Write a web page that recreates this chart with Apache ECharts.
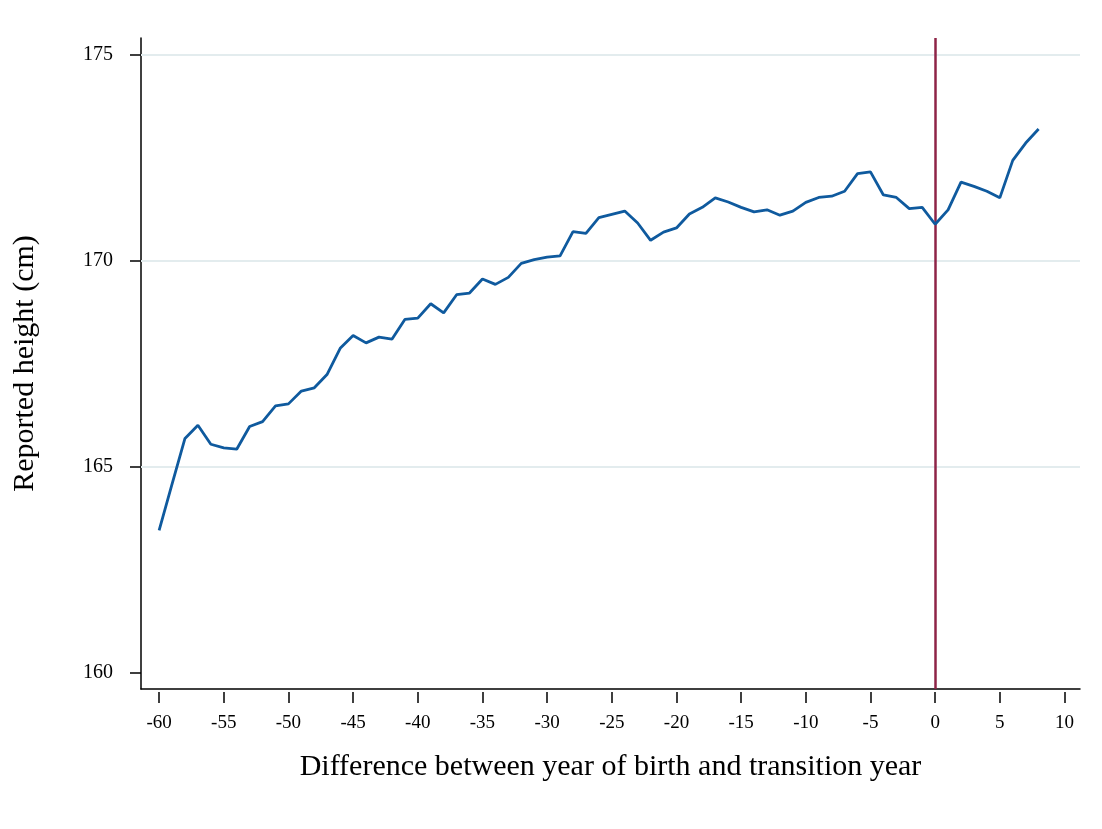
<!DOCTYPE html>
<html>
<head>
<meta charset="utf-8">
<script src="https://cdn.jsdelivr.net/npm/echarts@6/dist/echarts.min.js"></script>
<style>
html,body{margin:0;padding:0;background:#fff;}
#chart{width:1102px;height:829px;}
</style>
</head>
<body>
<div id="chart"></div>
<script>
// Difference between year of birth and transition year
const years = [-60,-59,-58,-57,-56,-55,-54,-53,-52,-51,-50,-49,-48,-47,-46,-45,-44,-43,-42,-41,-40,-39,-38,-37,-36,-35,-34,-33,-32,-31,-30,-29,-28,-27,-26,-25,-24,-23,-22,-21,-20,-19,-18,-17,-16,-15,-14,-13,-12,-11,-10,-9,-8,-7,-6,-5,-4,-3,-2,-1,0,1,2,3,4,5,6,7,8];
// Reported height (cm)
const heights = [163.45,164.57,165.68,166.0,165.54,165.45,165.42,165.97,166.09,166.47,166.52,166.83,166.91,167.24,167.87,168.18,168.0,168.14,168.09,168.57,168.6,168.95,168.73,169.17,169.21,169.55,169.42,169.59,169.93,170.02,170.08,170.11,170.7,170.66,171.04,171.12,171.2,170.91,170.49,170.69,170.79,171.13,171.29,171.52,171.42,171.29,171.18,171.23,171.1,171.2,171.41,171.53,171.56,171.68,172.11,172.15,171.59,171.53,171.26,171.29,170.88,171.23,171.9,171.8,171.68,171.52,172.43,172.85,173.19];
const xTicks = [-60,-55,-50,-45,-40,-35,-30,-25,-20,-15,-10,-5,0,5,10];
const yTicks = [160,165,170,175];
const gridValues = [165,170,175];
const transitionYear = 0;

const chart = echarts.init(document.getElementById('chart'), null, {renderer:'canvas'});
const serif = '"Liberation Serif", "DejaVu Serif", serif';
chart.setOption({
  backgroundColor:'#ffffff',
  animation:false,
  grid:{left:141, right:22, top:38, bottom:140, containLabel:false, outerBoundsMode:'none'},
  xAxis:[{
    type:'value', min:-61.4, max:11.2, position:'bottom', offset:3,
    axisLine:{show:false},
    axisTick:{show:true, length:11, customValues:xTicks, lineStyle:{color:'#000', width:1.5}},
    axisLabel:{customValues:xTicks, margin:22, color:'#000', fontSize:19, fontFamily:serif},
    splitLine:{show:false},
    name:'Difference between year of birth and transition year',
    nameLocation:'middle', nameGap:60,
    nameTextStyle:{fontFamily:serif, fontSize:30, color:'#000'}
  },{
    type:'value', min:-61.4, max:11.2, position:'bottom', offset:0,
    axisLine:{show:true, onZero:false, lineStyle:{color:'#000', width:1.5}},
    axisTick:{show:false}, axisLabel:{show:false}, splitLine:{show:false}
  }],
  yAxis:{
    type:'value', min:159.6, max:175.4,
    axisLine:{show:true, onZero:false, lineStyle:{color:'#000', width:1.5}},
    axisTick:{show:true, length:11, customValues:yTicks, lineStyle:{color:'#000', width:1.5}},
    axisLabel:{customValues:yTicks, margin:28, color:'#000', fontSize:20, fontFamily:serif},
    splitLine:{show:false},
    name:'Reported height (cm)', nameLocation:'middle', nameGap:101, nameRotate:90,
    nameTextStyle:{fontFamily:serif, fontSize:30, color:'#000'}
  },
  series:[{
    type:'line', xAxisIndex:0, z:1,
    data:[],
    markLine:{
      silent:true, symbol:['none','none'], label:{show:false}, z:1,
      data: gridValues.map(v=>({yAxis:v, lineStyle:{color:'#e3ecee', width:2, type:'solid'}}))
    }
  },{
    type:'line', xAxisIndex:0, z:2,
    data:[],
    markLine:{
      silent:true, symbol:['none','none'], label:{show:false}, z:2,
      data:[{xAxis:transitionYear, lineStyle:{color:'#8e2447', width:2.5, type:'solid'}}]
    }
  },{
    type:'line', xAxisIndex:0,
    data: years.map((y,i)=>[y, heights[i]]),
    showSymbol:false, symbol:'none',
    lineStyle:{color:'#0f5a9e', width:2.8},
    z:3
  }]
});
</script>
</body>
</html>
